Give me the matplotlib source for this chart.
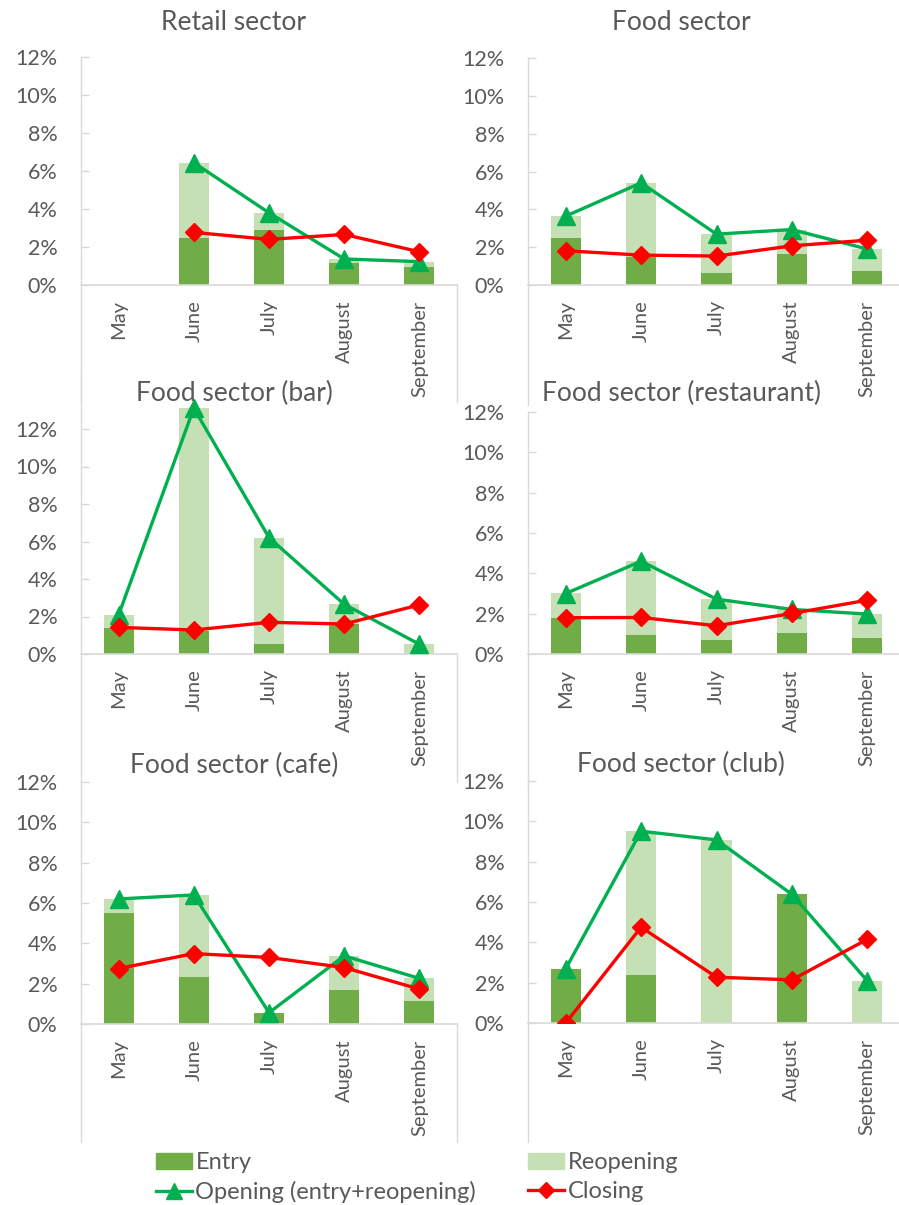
import numpy as np
import matplotlib

matplotlib.use("Agg")

import matplotlib.pyplot as plt
from matplotlib.lines import Line2D
from matplotlib.patches import Patch
from matplotlib.ticker import FuncFormatter

plt.rcParams["font.family"] = ["Lato", "DejaVu Sans"]

ENTRY_COLOR = "#70AD47"
REOPEN_COLOR = "#C5E0B4"
OPENING_COLOR = "#00B050"
CLOSING_COLOR = "#FF0000"
TEXT_COLOR = "#595959"
AXIS_COLOR = "#D9D9D9"

W, H = 899, 1205

months = ["May", "June", "July", "August", "September"]

nan = np.nan

# shares in percent, by month
retail_entry = [nan, 2.50, 2.92, 1.14, 0.96]
retail_reopening = [nan, 3.94, 0.88, 0.23, 0.27]
retail_closing = [nan, 2.77, 2.40, 2.66, 1.75]

food_entry = [2.50, 1.49, 0.65, 1.62, 0.74]
food_reopening = [1.14, 3.91, 2.04, 1.31, 1.16]
food_closing = [1.81, 1.58, 1.53, 2.07, 2.37]

bar_entry = [1.41, 1.25, 0.53, 1.58, 0.00]
bar_reopening = [0.67, 11.86, 5.68, 1.07, 0.52]
bar_closing = [1.42, 1.28, 1.69, 1.60, 2.62]

restaurant_entry = [1.77, 0.94, 0.69, 1.04, 0.79]
restaurant_reopening = [1.23, 3.66, 2.03, 1.17, 1.19]
restaurant_closing = [1.80, 1.81, 1.40, 2.01, 2.67]

cafe_entry = [5.51, 2.34, 0.56, 1.70, 1.14]
cafe_reopening = [0.69, 4.06, 0.00, 1.68, 1.12]
cafe_closing = [2.75, 3.49, 3.30, 2.80, 1.73]

club_entry = [2.69, 2.36, 0.00, 6.38, 0.00]
club_reopening = [0.00, 7.15, 9.08, 0.00, 2.09]
club_closing = [0.00, 4.75, 2.27, 2.14, 4.15]

# panel boxes in pixels: left, right, y of 0%, y of 12%, y max, frame bottom
PANELS = [
    ("Retail sector", retail_entry, retail_reopening, retail_closing,
     (81, 457, 285, 57, 12, 402), (234, 23)),
    ("Food sector", food_entry, food_reopening, food_closing,
     (528, 905, 285, 58, 12, 405), (681, 23)),
    ("Food sector (bar)", bar_entry, bar_reopening, bar_closing,
     (81, 457, 654, 429, 14, 782), (234, 393)),
    ("Food sector (restaurant)", restaurant_entry, restaurant_reopening,
     restaurant_closing, (528, 905, 654, 412, 12, 785), (681, 393)),
    ("Food sector (cafe)", cafe_entry, cafe_reopening, cafe_closing,
     (81, 457, 1024, 782, 12, 1142), (234, 765)),
    ("Food sector (club)", club_entry, club_reopening, club_closing,
     (528, 905, 1023, 781, 12, 1142), (681, 764)),
]


def px_rect(left, right, y_zero, y_twelve, ymax):
    """Convert a pixel box to figure fractions."""

    per_unit = (y_zero - y_twelve) / 12.0
    top = y_zero - ymax * per_unit

    return [left / W, 1 - y_zero / H, (right - left) / W, (y_zero - top) / H]


def draw_frame(fig, left, right, y_zero, top, bottom):
    """Draw the thin frame that runs down past the month labels."""

    fig.add_artist(Line2D(
        [left / W, left / W],
        [1 - top / H, 1 - bottom / H],
        color=AXIS_COLOR,
        linewidth=1,
    ))

    fig.add_artist(Line2D(
        [right / W, right / W],
        [1 - y_zero / H, 1 - bottom / H],
        color=AXIS_COLOR,
        linewidth=1,
    ))


def draw_panel(fig, title, entry, reopening, closing, box, title_pos):

    left, right, y_zero, y_twelve, ymax, bottom = box

    ax = fig.add_axes(px_rect(left, right, y_zero, y_twelve, ymax))
    ax.patch.set_alpha(0)

    x = np.arange(len(months))
    entry = np.array(entry, dtype=float)
    reopening = np.array(reopening, dtype=float)
    opening = entry + reopening

    ax.bar(x, entry, width=0.4, color=ENTRY_COLOR, zorder=2)
    ax.bar(x, reopening, width=0.4, bottom=entry, color=REOPEN_COLOR, zorder=2)

    ax.plot(
        x,
        opening,
        color=OPENING_COLOR,
        linewidth=2.4,
        marker="^",
        markersize=13,
        zorder=3,
    )

    ax.plot(
        x,
        closing,
        color=CLOSING_COLOR,
        linewidth=2.4,
        marker="D",
        markersize=9.5,
        zorder=4,
    )

    ax.set_xlim(-0.5, len(months) - 0.5)
    ax.set_ylim(0, ymax)
    ax.set_yticks([0, 2, 4, 6, 8, 10, 12])
    ax.yaxis.set_major_formatter(FuncFormatter(lambda v, p: f"{v:.0f}%"))

    ax.set_xticks(x)
    ax.set_xticklabels(months, rotation=90)

    for side in ["top", "right", "left"]:
        ax.spines[side].set_visible(False)

    ax.spines["bottom"].set_color(AXIS_COLOR)
    ax.spines["bottom"].set_linewidth(1.2)

    ax.tick_params(
        axis="y",
        direction="in",
        length=6,
        width=1,
        color=AXIS_COLOR,
        pad=17,
        labelsize=15.5,
        labelcolor=TEXT_COLOR,
    )

    ax.tick_params(
        axis="x",
        length=0,
        pad=11,
        labelsize=14.5,
        labelcolor=TEXT_COLOR,
    )

    draw_frame(fig, left, right, y_zero, y_twelve if ymax == 12 else 370, bottom)

    fig.text(
        title_pos[0] / W,
        1 - title_pos[1] / H,
        title,
        ha="center",
        va="center",
        fontsize=19,
        color=TEXT_COLOR,
    )


def draw_legend(fig):

    left_handles = [
        Patch(color=ENTRY_COLOR, label="Entry"),
        Line2D([0], [0], color=OPENING_COLOR, linewidth=2.4, marker="^",
               markersize=11, label="Opening (entry+reopening)"),
    ]

    right_handles = [
        Patch(color=REOPEN_COLOR, label="Reopening"),
        Line2D([0], [0], color=CLOSING_COLOR, linewidth=2.4, marker="D",
               markersize=8, label="Closing"),
    ]

    for handles, x0 in [(left_handles, 147), (right_handles, 519)]:
        leg = fig.legend(
            handles=handles,
            loc="upper left",
            bbox_to_anchor=(x0 / W, 1 - 1143 / H),
            frameon=False,
            fontsize=17,
            handlelength=1.5,
            handleheight=0.65,
            handletextpad=0.15,
            labelspacing=0.33,
            borderaxespad=0,
        )
        for text in leg.get_texts():
            text.set_color(TEXT_COLOR)


fig = plt.figure(figsize=(W / 100, H / 100), dpi=100)

for title, entry, reopening, closing, box, title_pos in PANELS:
    draw_panel(fig, title, entry, reopening, closing, box, title_pos)

draw_legend(fig)

fig.savefig("out.png", dpi=100)
plt.close(fig)
